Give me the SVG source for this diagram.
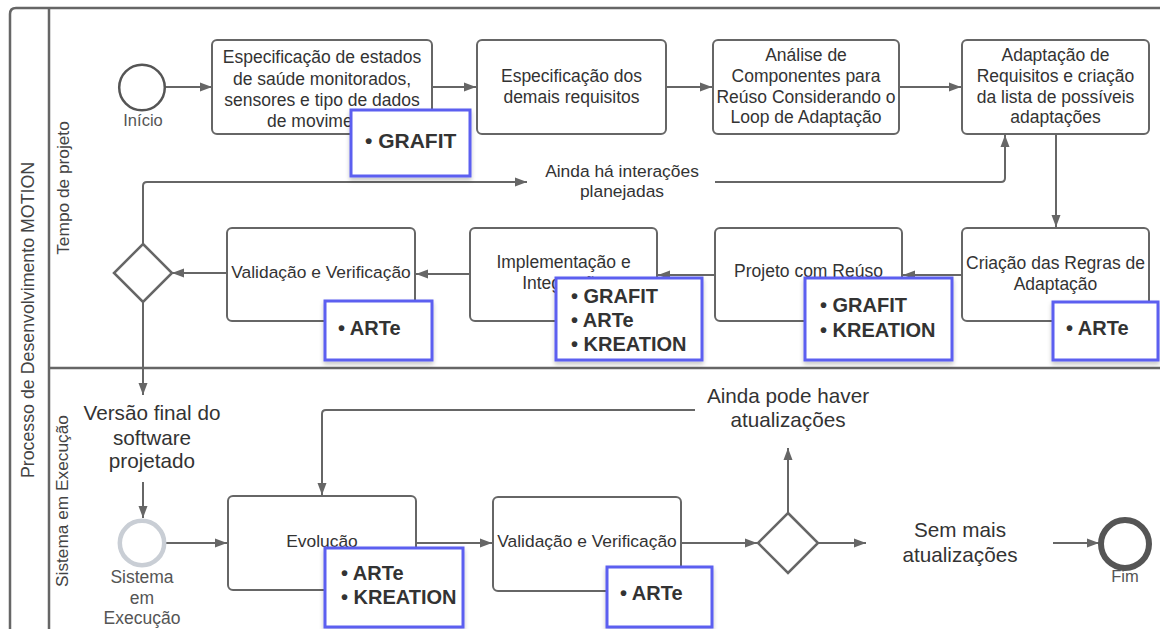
<svg xmlns="http://www.w3.org/2000/svg" width="1160" height="629" viewBox="0 0 1160 629">
  <style>
    .pool { fill: none; stroke: #666; stroke-width: 2.5; }
    .task { fill: #fff; stroke: #666; stroke-width: 2; }
    .gate { fill: #fff; stroke: #666; stroke-width: 2.5; }
    .tool { fill: #fff; stroke: #5b5ef0; stroke-width: 3; filter: url(#shadow); }
    .edge { fill: none; stroke: #666; stroke-width: 2; marker-end: url(#arrow); }
    text { font-family: "Liberation Sans", Arial, sans-serif; fill: #333; }
    .t17 { font-size: 17.4px; text-anchor: middle; }
    .t175 { font-size: 17.5px; text-anchor: middle; }
    .t20 { font-size: 20.7px; text-anchor: middle; }
    .lane { font-size: 17.3px; text-anchor: middle; fill: #444; }
    .ev { font-size: 16.5px; text-anchor: middle; fill: #555; }
    .tt { font-size: 20px; font-weight: bold; fill: #333; }
  </style>
  <defs>
    <marker id="arrow" viewBox="0 0 12 10" refX="12" refY="5" markerWidth="12" markerHeight="10" markerUnits="userSpaceOnUse" orient="auto">
      <path d="M0,0.5 L12,5 L0,9.5 z" fill="#666"/>
    </marker>
    <filter id="shadow" x="-10%" y="-10%" width="125%" height="135%">
      <feDropShadow dx="0" dy="3" stdDeviation="2" flood-color="#000" flood-opacity="0.22"/>
    </filter>
  </defs>

  <rect width="1160" height="629" fill="#fff"/>

  <!-- pool and lanes -->
  <g id="pool">
    <path class="pool" d="M10,640 V14 Q10,8 16,8 H1165"/>
    <line class="pool" x1="49" y1="8" x2="49" y2="640"/>
    <line class="pool" x1="49" y1="368" x2="1165" y2="368"/>
    <text class="lane" transform="translate(33.5,320) rotate(-90)" style="font-size:17.8px">Processo de Desenvolvimento MOTION</text>
    <text class="lane" transform="translate(69,188) rotate(-90)">Tempo de projeto</text>
    <text class="lane" transform="translate(68,501) rotate(-90)">Sistema em Execução</text>
  </g>

  <!-- connectors -->
  <g id="connectors">
    <path class="edge" d="M165,87 H212"/>
    <path class="edge" d="M432,87 H476"/>
    <path class="edge" d="M666,87 H712"/>
    <path class="edge" d="M899,87 H961"/>
    <path class="edge" d="M1056,134 V227"/>
    <path class="edge" d="M962,275 H903"/>
    <path class="edge" d="M715,275 H658"/>
    <path class="edge" d="M470,274 H416"/>
    <path class="edge" d="M227,273 H172"/>
    <path class="edge" d="M143,244 V186 Q143,182 147,182 H527"/>
    <path class="edge" d="M715,182 H1001 Q1005,182 1005,178 V135"/>
    <path class="edge" d="M143,302 V395"/>
    <path class="edge" d="M143,482 V518"/>
    <path class="edge" d="M166,543 H227"/>
    <path class="edge" d="M416,543 H492"/>
    <path class="edge" d="M681,543 H757"/>
    <path class="edge" d="M788,513 V448"/>
    <path class="edge" d="M695,410 H326 Q322,410 322,414 V495"/>
    <path class="edge" d="M817,543 H866"/>
    <path class="edge" d="M1053,543 H1099"/>
    <text class="t17" x="622" y="177">Ainda há interações</text>
    <text class="t17" x="622" y="197">planejadas</text>
    <text class="t20" x="152" y="420">Versão final do</text>
    <text class="t20" x="152" y="445">software</text>
    <text class="t20" x="152" y="468">projetado</text>
    <text class="t20" x="788" y="403">Ainda pode haver</text>
    <text class="t20" x="788" y="427">atualizações</text>
    <text class="t20" x="960" y="537">Sem mais</text>
    <text class="t20" x="960" y="562">atualizações</text>
  </g>

  <!-- start event -->
  <g id="inicio">
    <circle cx="142" cy="87.5" r="22.8" fill="#fff" stroke="#555" stroke-width="2.5"/>
    <text class="ev" x="143" y="126">Início</text>
  </g>

  <!-- design-time tasks -->
  <g id="spec-estados">
    <rect class="task" x="212" y="40" width="220" height="94" rx="5"/>
    <text class="t175" x="322" y="63">Especificação de estados</text>
    <text class="t175" x="322" y="84.5">de saúde monitorados,</text>
    <text class="t175" x="322" y="105.5">sensores e tipo de dados</text>
    <text class="t175" x="322" y="127">de movimento</text>
  </g>
  <g id="tool-spec-estados">
    <rect class="tool" x="351" y="110" width="119" height="66"/>
    <text class="tt" x="365" y="148" style="font-size:21px">• GRAFIT</text>
  </g>

  <g id="spec-requisitos">
    <rect class="task" x="477" y="40" width="189" height="94" rx="5"/>
    <text class="t175" x="571.5" y="82">Especificação dos</text>
    <text class="t175" x="571.5" y="102.5">demais requisitos</text>
  </g>

  <g id="analise">
    <rect class="task" x="713" y="40" width="186" height="94" rx="5"/>
    <text class="t175" x="806" y="61">Análise de</text>
    <text class="t175" x="806" y="82">Componentes para</text>
    <text class="t175" x="806" y="102.5">Reúso Considerando o</text>
    <text class="t175" x="806" y="123">Loop de Adaptação</text>
  </g>

  <g id="adaptacao-requisitos">
    <rect class="task" x="962" y="40" width="187" height="94" rx="5"/>
    <text class="t175" x="1055.5" y="61">Adaptação de</text>
    <text class="t175" x="1055.5" y="82">Requisitos e criação</text>
    <text class="t175" x="1055.5" y="102.5">da lista de possíveis</text>
    <text class="t175" x="1055.5" y="123">adaptações</text>
  </g>

  <g id="regras">
    <rect class="task" x="962" y="228" width="187" height="93" rx="5"/>
    <text class="t175" x="1055.5" y="269">Criação das Regras de</text>
    <text class="t175" x="1055.5" y="290">Adaptação</text>
  </g>
  <g id="tool-regras">
    <rect class="tool" x="1053" y="302" width="105" height="58"/>
    <text class="tt" x="1066" y="335">• ARTe</text>
  </g>

  <g id="projeto-reuso">
    <rect class="task" x="715" y="228" width="187" height="93" rx="5"/>
    <text class="t175" x="808.5" y="277">Projeto com Reúso</text>
  </g>
  <g id="tool-projeto-reuso">
    <rect class="tool" x="805" y="278" width="147" height="82"/>
    <text class="tt" x="820" y="312">• GRAFIT</text>
    <text class="tt" x="820" y="337">• KREATION</text>
  </g>

  <g id="implementacao">
    <rect class="task" x="470" y="228" width="187" height="93" rx="5"/>
    <text class="t175" x="563.5" y="268">Implementação e</text>
    <text class="t175" x="563.5" y="289">Integração</text>
  </g>
  <g id="tool-implementacao">
    <rect class="tool" x="556" y="278" width="146" height="82"/>
    <text class="tt" x="571" y="303">• GRAFIT</text>
    <text class="tt" x="571" y="327">• ARTe</text>
    <text class="tt" x="571" y="351">• KREATION</text>
  </g>

  <g id="validacao-projeto">
    <rect class="task" x="227" y="228" width="188" height="93" rx="5"/>
    <text class="t17" x="321" y="278">Validação e Verificação</text>
  </g>
  <g id="tool-validacao-projeto">
    <rect class="tool" x="325" y="301" width="107" height="59"/>
    <text class="tt" x="338" y="335">• ARTe</text>
  </g>

  <g id="gateway-iteracoes">
    <path class="gate" d="M143,244 L172,273 L143,302 L114,273 z"/>
  </g>

  <!-- runtime lane -->
  <g id="sistema-execucao">
    <circle cx="142" cy="543" r="22.2" fill="#fff" stroke="#c9ced5" stroke-width="4.5"/>
    <text class="ev" x="142" y="583" style="font-size:17.5px">Sistema</text>
    <text class="ev" x="142" y="603.5" style="font-size:17.5px">em</text>
    <text class="ev" x="142" y="624" style="font-size:17.5px">Execução</text>
  </g>

  <g id="evolucao">
    <rect class="task" x="228" y="496" width="188" height="94" rx="5"/>
    <text class="t17" x="322" y="547">Evolução</text>
  </g>
  <g id="tool-evolucao">
    <rect class="tool" x="325" y="548" width="138" height="79"/>
    <text class="tt" x="341" y="580">• ARTe</text>
    <text class="tt" x="341" y="604">• KREATION</text>
  </g>

  <g id="validacao-execucao">
    <rect class="task" x="493" y="497" width="188" height="94" rx="5"/>
    <text class="t17" x="587" y="547">Validação e Verificação</text>
  </g>
  <g id="tool-validacao-execucao">
    <rect class="tool" x="607" y="567" width="105" height="60"/>
    <text class="tt" x="620" y="600">• ARTe</text>
  </g>

  <g id="gateway-atualizacoes">
    <path class="gate" d="M788,513 L818,543 L788,573 L758,543 z"/>
  </g>

  <g id="fim">
    <circle cx="1125" cy="544" r="24" fill="#fff" stroke="#555" stroke-width="6"/>
    <text class="ev" x="1125" y="582">Fim</text>
  </g>
</svg>
